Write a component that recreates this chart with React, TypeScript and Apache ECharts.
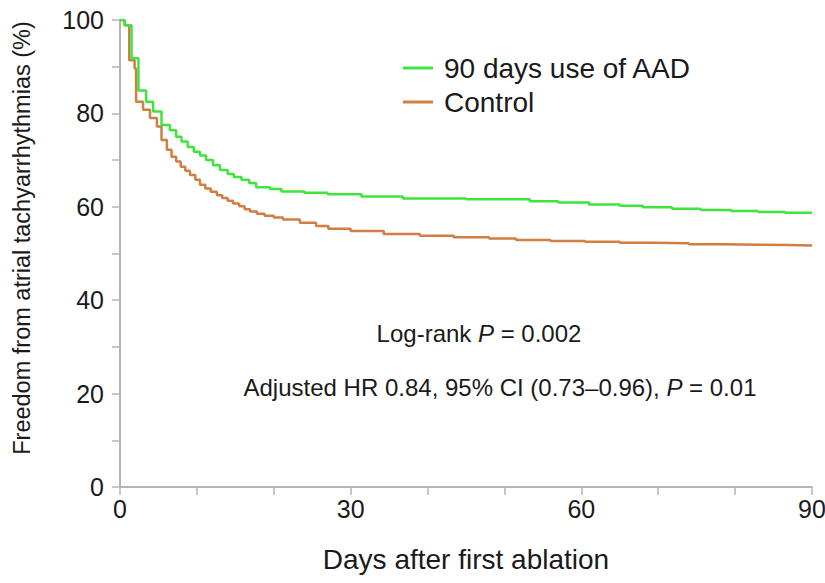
import React, { useEffect, useRef } from "react";
import * as echarts from "echarts";

// Kaplan–Meier estimates: day of each step and the survival value from that day on
const aadDays = [0, 0.6, 1.5, 2.4, 3.4, 4.3, 5.4, 6.5, 7.3, 8.0, 8.8, 9.6, 10.4, 11.2, 12.1, 13.0, 14.0, 14.8, 15.8, 16.8, 17.7, 19.5, 21.0, 24.0, 27.0, 31.4, 36.8, 45.0, 53.3, 57.0, 61.0, 65.0, 68.0, 71.8, 75.5, 79.5, 83.0, 86.5, 90];
const aadValues = [100, 98.9, 91.8, 84.9, 82.5, 80.4, 77.5, 76.4, 75.0, 74.0, 72.8, 71.8, 71.0, 70.0, 68.9, 67.9, 67.0, 66.4, 65.8, 65.1, 64.2, 63.8, 63.3, 63.0, 62.7, 62.2, 61.8, 61.6, 61.2, 60.9, 60.5, 60.2, 59.9, 59.6, 59.3, 59.1, 58.9, 58.7, 58.6];

const controlDays = [0, 0.6, 1.2, 1.9, 2.1, 3.0, 3.9, 4.8, 5.4, 6.1, 6.7, 7.3, 7.9, 8.5, 9.1, 9.8, 10.4, 11.1, 11.8, 12.6, 13.3, 14.0, 14.7, 15.5, 16.2, 16.9, 17.8, 18.8, 20.0, 21.2, 23.4, 25.5, 27.1, 30.0, 34.3, 39.0, 43.4, 48.0, 51.5, 56.0, 60.5, 65.0, 69.2, 74.0, 78.5, 83.2, 87.0, 90];
const controlValues = [100, 98.9, 91.4, 89.6, 82.5, 80.8, 79.0, 77.2, 74.3, 72.2, 70.7, 69.7, 68.6, 67.7, 66.8, 65.8, 64.7, 63.9, 63.2, 62.5, 61.9, 61.3, 60.7, 60.1, 59.5, 59.0, 58.5, 58.1, 57.7, 57.3, 56.6, 55.9, 55.3, 54.8, 54.2, 53.8, 53.5, 53.2, 52.9, 52.7, 52.5, 52.3, 52.2, 52.0, 51.9, 51.8, 51.7, 51.6];

const seriesNames = ["90 days use of AAD", "Control"];
const xLabelTicks = [0, 30, 60, 90];
const yLabelTicks = [0, 20, 40, 60, 80, 100];

const FONT = "'Liberation Sans', Arial, Helvetica, sans-serif";
const TEXT = "#1a1a1a";
const AXIS = "#b4b4b4";

const pairs = (xs: number[], ys: number[]) => xs.map((x, i) => [x, ys[i]]);

export default function App() {
  const ref = useRef<HTMLDivElement>(null);

  useEffect(() => {
    if (!ref.current) return;
    const chart = echarts.init(ref.current, null, { renderer: "svg" });
    chart.setOption({
      animation: false,
      backgroundColor: "#ffffff",
      grid: { left: 120, right: 13, top: 20, bottom: 96, containLabel: false, outerBoundsMode: "none" },
      legend: {
        data: seriesNames,
        orient: "vertical",
        left: 398,
        top: 48,
        icon: "rect",
        itemWidth: 30,
        itemHeight: 3,
        itemGap: 4,
        textStyle: { fontFamily: FONT, fontSize: 28, color: TEXT, lineHeight: 30, padding: [0, 0, 0, 6] },
      },
      xAxis: {
        type: "value",
        min: 0,
        max: 90,
        interval: 10,
        name: "Days after first ablation",
        nameLocation: "middle",
        nameGap: 58,
        nameTextStyle: { fontFamily: FONT, fontSize: 28, color: TEXT },
        axisLine: { lineStyle: { color: AXIS, width: 2 } },
        axisTick: { show: true, length: 8, lineStyle: { color: AXIS, width: 1.5 } },
        axisLabel: {
          fontFamily: FONT,
          fontSize: 25,
          color: TEXT,
          margin: 9,
          formatter: (v: number) => (xLabelTicks.includes(v) ? String(v) : ""),
        },
        splitLine: { show: false },
      },
      yAxis: {
        type: "value",
        min: 0,
        max: 100,
        interval: 10,
        axisLine: { show: true, lineStyle: { color: AXIS, width: 2 } },
        axisTick: { show: true, length: 8, lineStyle: { color: AXIS, width: 1.5 } },
        axisLabel: {
          fontFamily: FONT,
          fontSize: 25,
          color: TEXT,
          margin: 16,
          formatter: (v: number) => (yLabelTicks.includes(v) ? String(v) : ""),
        },
        splitLine: { show: false },
      },
      series: [
        {
          name: seriesNames[1],
          type: "line",
          step: "end",
          symbol: "none",
          z: 2,
          data: pairs(controlDays, controlValues),
          lineStyle: { color: "#d07e42", width: 2.5 },
          itemStyle: { color: "#d07e42" },
        },
        {
          name: seriesNames[0],
          type: "line",
          step: "end",
          symbol: "none",
          z: 3,
          data: pairs(aadDays, aadValues),
          lineStyle: { color: "#3fe43f", width: 2.5 },
          itemStyle: { color: "#3fe43f" },
        },
      ],
      graphic: [
        {
          type: "text",
          x: 22,
          y: 238,
          rotation: Math.PI / 2,
          style: {
            text: "Freedom from atrial tachyarrhythmias (%)",
            fontFamily: FONT,
            fontSize: 23.5,
            fill: TEXT,
            align: "center",
            verticalAlign: "middle",
          },
        },
        {
          type: "text",
          x: 479,
          y: 333,
          style: {
            text: "{a|Log-rank }{i|P}{a| = 0.002}",
            align: "center",
            verticalAlign: "middle",
            rich: {
              a: { fontFamily: FONT, fontSize: 24, fill: TEXT },
              i: { fontFamily: FONT, fontSize: 24, fontStyle: "italic", fill: TEXT },
            },
          },
        },
        {
          type: "text",
          x: 500,
          y: 387,
          style: {
            text: "{a|Adjusted HR 0.84, 95% CI (0.73\u20130.96), }{i|P}{a| = 0.01}",
            align: "center",
            verticalAlign: "middle",
            rich: {
              a: { fontFamily: FONT, fontSize: 24, fill: TEXT },
              i: { fontFamily: FONT, fontSize: 24, fontStyle: "italic", fill: TEXT },
            },
          },
        },
      ],
    });
    return () => chart.dispose();
  }, []);

  return (
    <div
      ref={ref}
      style={{ position: "fixed", left: 0, top: 0, width: 825, height: 583 }}
    />
  );
}
